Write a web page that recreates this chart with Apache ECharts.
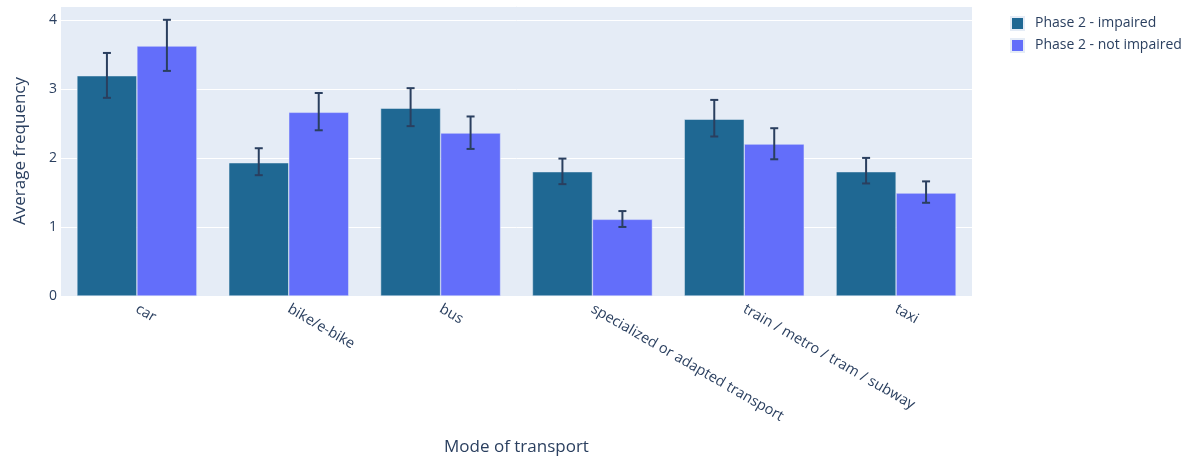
<!DOCTYPE html>
<html>
<head>
<meta charset="utf-8">
<script src="https://cdn.jsdelivr.net/npm/echarts@6/dist/echarts.min.js"></script>
<style>
  html, body { margin: 0; padding: 0; background: #ffffff; }
  #chart { width: 1200px; height: 461px; }
</style>
</head>
<body>
<div id="chart"></div>
<script>
// Transport modes on the category axis
const categories = ['car', 'bike/e-bike', 'bus', 'specialized or adapted transport', 'train / metro / tram / subway', 'taxi'];

// Phase 2 - impaired: mean and error-bar bounds
const impairedMean  = [3.19, 1.93, 2.72, 1.80, 2.56, 1.80];
const impairedLow   = [2.87, 1.75, 2.46, 1.62, 2.31, 1.63];
const impairedHigh  = [3.52, 2.14, 3.01, 1.99, 2.84, 2.00];

// Phase 2 - not impaired: mean and error-bar bounds
const notImpairedMean = [3.62, 2.66, 2.36, 1.11, 2.20, 1.49];
const notImpairedLow  = [3.26, 2.40, 2.13, 1.00, 1.98, 1.35];
const notImpairedHigh = [4.00, 2.94, 2.60, 1.23, 2.43, 1.66];

const yTicks = [0, 1, 2, 3, 4];

const seriesNames = ['Phase 2 - impaired', 'Phase 2 - not impaired'];
const colors = ['#1f6893', '#636efa'];
const textColor = '#2a3f5f';
const FONT = '"Open Sans", "Noto Sans", sans-serif';
const CAT_GAP = 0.21;   // fraction of each category band left empty

// Error bars drawn over the grouped bars; side = -1 (left bar) or +1 (right bar)
function errorBarRenderer(side) {
  return function (params, api) {
    const idx = api.value(0);
    const lo = api.coord([idx, api.value(1)]);
    const hi = api.coord([idx, api.value(2)]);
    const band = api.size([1, 0])[0];
    const barW = band * (1 - CAT_GAP) / 2;
    const x = lo[0] + side * barW / 2;
    const cap = 4;
    const style = { stroke: textColor, lineWidth: 2 };
    return {
      type: 'group',
      children: [
        { type: 'line', shape: { x1: x, y1: hi[1], x2: x, y2: lo[1] }, style },
        { type: 'line', shape: { x1: x - cap, y1: hi[1], x2: x + cap, y2: hi[1] }, style },
        { type: 'line', shape: { x1: x - cap, y1: lo[1], x2: x + cap, y2: lo[1] }, style }
      ]
    };
  };
}

const chart = echarts.init(document.getElementById('chart'), null, { renderer: 'canvas' });

chart.setOption({
  animation: false,
  textStyle: { fontFamily: FONT },
  grid: {
    left: 61, right: 228, top: 6, bottom: 164,
    show: true, backgroundColor: '#e5ecf6', borderWidth: 0
  },
  legend: {
    orient: 'vertical',
    left: 1005, top: 11,
    itemWidth: 13, itemHeight: 13, itemGap: 7,
    icon: 'rect',
    data: seriesNames,
    textStyle: { color: textColor, fontSize: 14, fontFamily: FONT, padding: [0, 0, 0, 6] }
  },
  xAxis: {
    type: 'category',
    data: categories,
    name: 'Mode of transport',
    nameLocation: 'middle',
    nameGap: 143,
    nameTextStyle: { color: textColor, fontSize: 17, fontFamily: FONT },
    axisLine: { show: false },
    axisTick: { show: false },
    axisLabel: {
      rotate: -30, margin: 12, interval: 0,
      color: textColor, fontSize: 14.5, fontFamily: FONT
    }
  },
  yAxis: {
    type: 'value',
    min: yTicks[0], max: 4.2, interval: 1,
    name: 'Average frequency',
    nameLocation: 'middle',
    nameGap: 32,
    nameTextStyle: { color: textColor, fontSize: 17, fontFamily: FONT },
    axisLine: { show: false },
    axisTick: { show: false },
    splitLine: { lineStyle: { color: '#ffffff', width: 1 } },
    axisLabel: {
      color: textColor, fontSize: 14, fontFamily: FONT, margin: 4,
      showMaxLabel: false,
      formatter: v => (yTicks.indexOf(v) >= 0 ? String(v) : '')
    }
  },
  series: [
    {
      name: seriesNames[0], type: 'bar', data: impairedMean,
      barGap: '0%', barCategoryGap: (CAT_GAP * 100) + '%',
      itemStyle: { color: colors[0], borderColor: '#e5ecf6', borderWidth: 0.5 }
    },
    {
      name: seriesNames[1], type: 'bar', data: notImpairedMean,
      barGap: '0%', barCategoryGap: (CAT_GAP * 100) + '%',
      itemStyle: { color: colors[1], borderColor: '#e5ecf6', borderWidth: 0.5 }
    },
    {
      type: 'custom', name: 'err-impaired', z: 10,
      renderItem: errorBarRenderer(-1),
      data: categories.map((c, i) => [i, impairedLow[i], impairedHigh[i]]),
      encode: { x: 0, y: [1, 2] }
    },
    {
      type: 'custom', name: 'err-not-impaired', z: 10,
      renderItem: errorBarRenderer(1),
      data: categories.map((c, i) => [i, notImpairedLow[i], notImpairedHigh[i]]),
      encode: { x: 0, y: [1, 2] }
    }
  ]
});
</script>
</body>
</html>
